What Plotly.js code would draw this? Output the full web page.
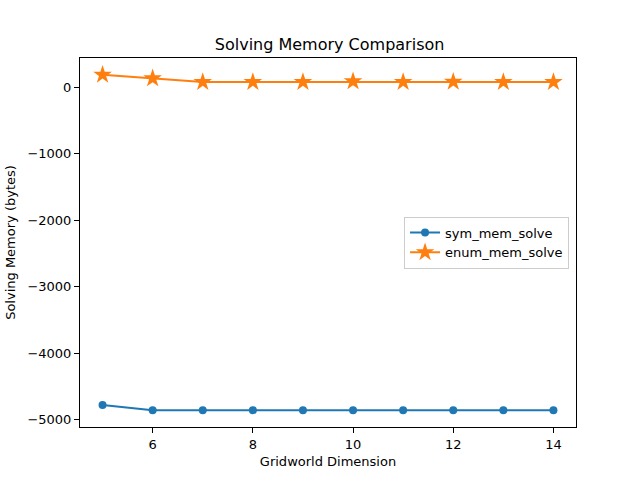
<!DOCTYPE html>
<html>
<head>
<meta charset="utf-8">
<script src="https://cdn.plot.ly/plotly-3.0.1.min.js"></script>
<style>html,body{margin:0;padding:0;background:#fff}#chart{width:640px;height:480px}</style>
</head>
<body>
<div id="chart"></div>
<script>
const dims = [5, 6, 7, 8, 9, 10, 11, 12, 13, 14];
const symMemSolve = [-4780, -4860, -4860, -4860, -4860, -4860, -4860, -4860, -4860, -4860];
const enumMemSolve = [190, 135, 80, 80, 80, 90, 80, 85, 80, 80];
const yTicks = [0, -1000, -2000, -3000, -4000, -5000];
const xTicks = [6, 8, 10, 12, 14];

const font = {family: 'DejaVu Sans, sans-serif', size: 13, color: '#000'};
const traces = [
  {x: dims, y: symMemSolve, name: 'sym_mem_solve', mode: 'lines+markers',
   line: {color: '#1f77b4', width: 2}, marker: {symbol: 'circle', size: 8, color: '#1f77b4'}},
  {x: dims, y: enumMemSolve, name: 'enum_mem_solve', mode: 'lines+markers',
   line: {color: '#ff7f0e', width: 2}, marker: {symbol: 'star', size: 14, color: '#ff7f0e', line: {width: 0}}}
];
const axisCommon = {showline: true, mirror: true, linecolor: '#000', linewidth: 1, ticks: 'outside',
  ticklen: 5, tickcolor: '#000', showgrid: false, zeroline: false, tickfont: font};
const layout = {
  width: 640, height: 480, paper_bgcolor: '#fff', plot_bgcolor: '#fff', font: font,
  margin: {l: 80, r: 64, t: 58, b: 53},
  title: {text: 'Solving Memory Comparison', font: {family: font.family, size: 16, color: '#000'}, x: 0.515, xanchor: 'center', y: 0.908, yanchor: 'middle'},
  xaxis: Object.assign({}, axisCommon, {range: [4.55, 14.45], tickvals: xTicks,
    title: {text: 'Gridworld Dimension', font: font, standoff: 6}}),
  yaxis: Object.assign({}, axisCommon, {range: [-5112, 442], tickvals: yTicks,
    title: {text: 'Solving Memory (bytes)', font: font, standoff: 8}}),
  showlegend: true,
  legend: {x: 0.986, xanchor: 'right', y: 0.5, yanchor: 'middle', bordercolor: '#ccc', borderwidth: 1,
    bgcolor: 'rgba(255,255,255,0.8)', font: font}
};
Plotly.newPlot('chart', traces, layout, {displayModeBar: false, staticPlot: true});
</script>
</body>
</html>
